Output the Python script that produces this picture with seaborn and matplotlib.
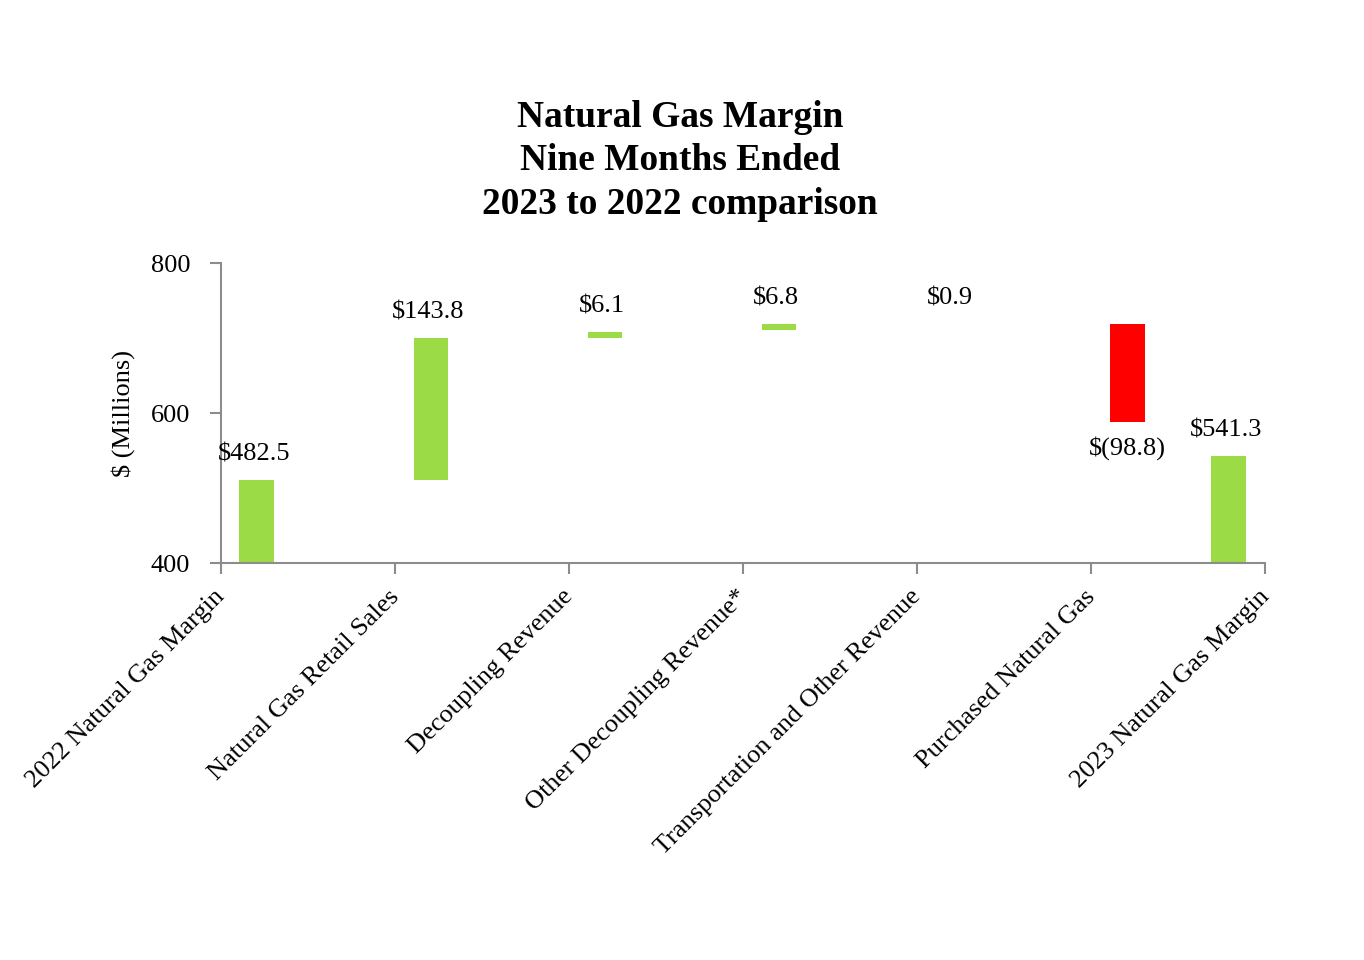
import matplotlib
matplotlib.use("Agg")
import matplotlib.pyplot as plt
import matplotlib.transforms as mtransforms
import seaborn as sns
import numpy as np
import pandas as pd

# ---- data ----
categories = ["2022 Natural Gas Margin", "Natural Gas Retail Sales", "Decoupling Revenue",
              "Other Decoupling Revenue*", "Transportation and Other Revenue",
              "Purchased Natural Gas", "2023 Natural Gas Margin"]
# bar extents as drawn on the value axis
bar_low = [400, 511, 701, 711, 719.5, 588.5, 400]
bar_high = [511, 700, 708.5, 719, 719.5, 719, 543]
value_labels = ["$482.5", "$143.8", "$6.1", "$6.8", "$0.9", "$(98.8)", "$541.3"]
bar_kind = ["up", "up", "up", "up", "up", "down", "up"]
yticks = [400, 600, 800]
title_lines = ["Natural Gas Margin", "Nine Months Ended", "2023 to 2022 comparison"]

df = pd.DataFrame({"cat": categories, "low": bar_low, "high": bar_high,
                   "label": value_labels, "kind": bar_kind})

sns.set_theme(style="white")
plt.rcParams["font.family"] = ["Liberation Serif", "DejaVu Serif"]
plt.rcParams["text.color"] = "black"
plt.rcParams["axes.labelcolor"] = "black"
plt.rcParams["xtick.color"] = "black"
plt.rcParams["ytick.color"] = "black"

fig = plt.figure(figsize=(13.64, 9.6), dpi=100)
ax = fig.add_axes([0.1618, 0.4132, 0.7656, 0.3125])

n = len(categories)
offset = 0.208
pos = np.arange(n, dtype=float) + offset
pos[-1] = (n - 1) - offset
colors = {"up": "#9BDB46", "down": "#FF0000"}

ax.bar(pos, df["high"] - df["low"], bottom=df["low"], width=0.2,
       color=[colors[k] for k in df["kind"]], linewidth=0)

for x, lo, hi, lab, kind in zip(pos, df["low"], df["high"], df["label"], df["kind"]):
    if kind == "down":
        ax.annotate(lab, (x, lo), xytext=(0, -18.5), textcoords="offset points",
                    ha="center", va="center", fontsize=19, color="black")
    else:
        ax.annotate(lab, (x, hi), xytext=(-2, 18.5), textcoords="offset points",
                    ha="center", va="center", fontsize=19, color="black")

ax.set_xlim(0, n - 1)
ax.set_ylim(400, 800)
ax.set_yticks(yticks)
ax.set_yticklabels([str(v) for v in yticks], fontsize=19)
ax.set_xticks(np.arange(n))
ax.set_xticklabels(categories, rotation=45, ha="right", va="top",
                   rotation_mode="anchor", fontsize=19)
ax.set_ylabel("$ (Millions)", fontsize=19, labelpad=11)

for s in ["top", "right"]:
    ax.spines[s].set_visible(False)
for s in ["left", "bottom"]:
    ax.spines[s].set_color("#8C8C8C")
    ax.spines[s].set_linewidth(1.5)
ax.tick_params(axis="both", which="major", direction="out", length=8, width=1.5,
               color="#8C8C8C", labelcolor="black")
ax.tick_params(axis="y", pad=14)
ax.tick_params(axis="x", pad=8)
ax.tick_params(left=True, bottom=True)

# nudge x tick labels slightly left to match reference anchoring
shift = mtransforms.ScaledTranslation(-5 / 72, 0, fig.dpi_scale_trans)
for lbl in ax.get_xticklabels():
    lbl.set_transform(lbl.get_transform() + shift)

fig.text(0.4985, 0.8323, "\n".join(title_lines), ha="center", va="center",
         fontsize=26.9, fontweight="bold", linespacing=1.33, color="black")

fig.savefig("out.png", dpi=100, facecolor="white")
